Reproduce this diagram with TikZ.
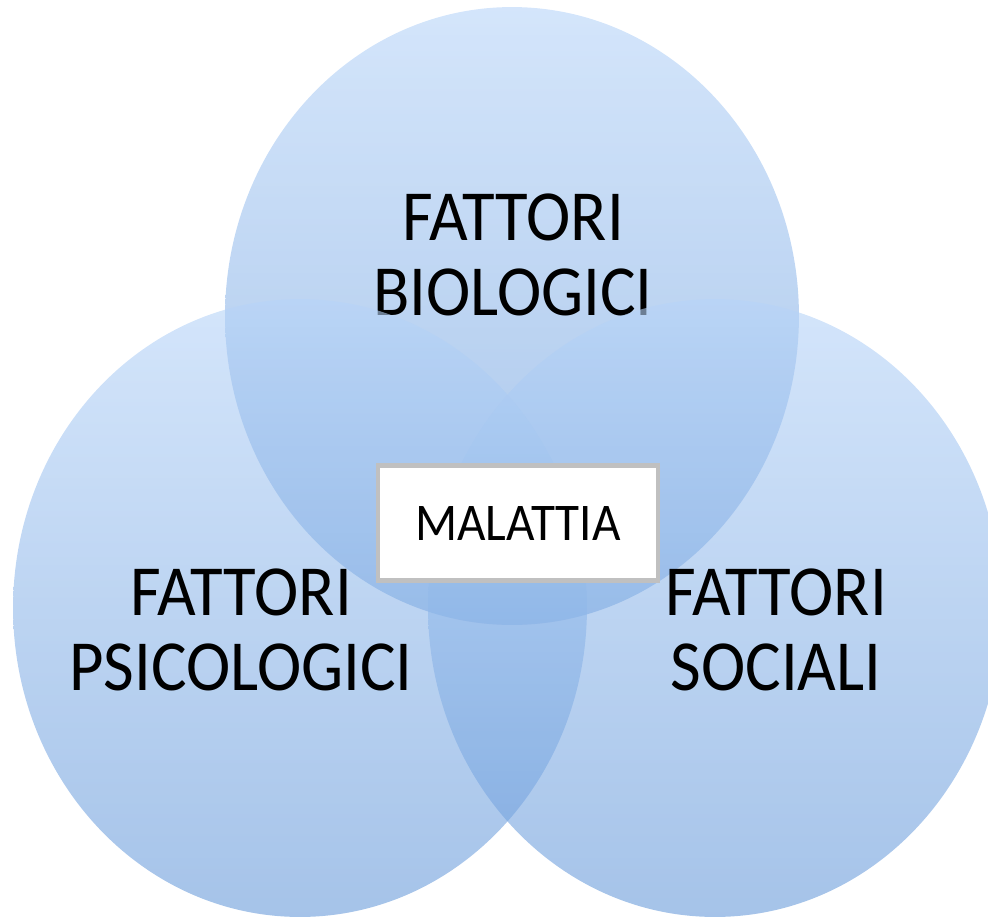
\documentclass[tikz,border=0pt]{standalone}
\usepackage{fontspec}
\setmainfont{Carlito}
\usepackage{tikz}
\usetikzlibrary{shapes.geometric}
\definecolor{venntop}{RGB}{183,212,248}
\definecolor{vennbot}{RGB}{105,155,218}
\definecolor{boxgray}{RGB}{192,192,192}

\begin{document}
\begin{tikzpicture}[x=0.02cm, y=-0.02cm,
      set/.style={ellipse, draw=none, inner sep=0pt, minimum width=11.48cm, minimum height=12.36cm, top color=venntop, bottom color=vennbot, fill opacity=0.6},
      lbl/.style={align=center, inner sep=0pt, yscale=1.077, transform shape, font=\fontsize{38}{39.5}\selectfont},
      box/.style={rectangle, draw=boxgray, line width=2.3pt, fill=white, minimum width=5.6cm, minimum height=2.3cm},
      boxtext/.style={inner sep=0pt, yscale=1.077, transform shape, font=\fontsize{28}{28}\selectfont}]
    \useasboundingbox (0,0) rectangle (988,917);
    \node[set] (top) at (512,316) {};
    \node[lbl] (bio) at (513,255) {FATTORI\\BIOLOGICI};
    \node[set] (left) at (300,608) {};
    \node[set] (right) at (715,608) {};
    \node[lbl] (psi) at (241,630) {FATTORI\\PSICOLOGICI};
    \node[lbl] (soc) at (776,630) {FATTORI\\SOCIALI};
    \node[box] (mal) at (518,523) {};
    \node[boxtext] (maltext) at (mal.center) {MALATTIA};
  \end{tikzpicture}
\end{document}
